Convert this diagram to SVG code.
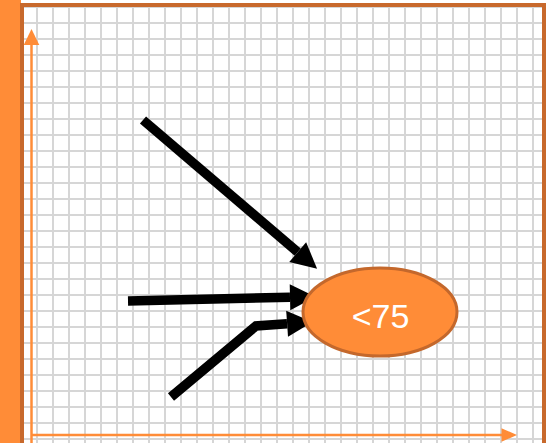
<svg xmlns="http://www.w3.org/2000/svg" width="547" height="443" viewBox="0 0 547 443">
  <style>
    .axis { stroke: #ff8c37; stroke-width: 2.5; fill: none; }
    .axishead { fill: #ff8c37; }
    .conn { stroke: #000000; stroke-width: 9.5; fill: none; stroke-linejoin: miter; stroke-linecap: butt; }
    .node { fill: #ff8c37; stroke: #c4682c; stroke-width: 3; }
    .label { font-family: "Liberation Sans", Arial, sans-serif; font-size: 34px; fill: #ffffff; }
  </style>
  <defs>
    <pattern id="grid" x="20" y="6" width="16" height="16" patternUnits="userSpaceOnUse">
      <path d="M0 1H16M1 0V16" stroke="#d6d6d6" stroke-width="2" fill="none"/>
    </pattern>
    <marker id="head" markerUnits="userSpaceOnUse" markerWidth="27" markerHeight="27" refX="0" refY="13" orient="auto" overflow="visible">
      <path d="M0 0L25.5 13L0 26Z" fill="#000000"/>
    </marker>
  </defs>

  <g id="background">
    <rect x="0" y="0" width="547" height="443" fill="#ffffff"/>
    <rect x="0" y="0" width="21" height="443" fill="#ff8c37"/>
    <rect x="22" y="5" width="522" height="450" fill="url(#grid)"/>
    <rect x="22" y="5" width="522" height="450" fill="none" stroke="#c8692c" stroke-width="4"/>
  </g>

  <g id="axes">
    <line class="axis" x1="31.5" y1="443" x2="31.5" y2="44"/>
    <path class="axishead" d="M31.5 29L39.3 45L23.7 45Z"/>
    <line class="axis" x1="31" y1="435" x2="503" y2="435"/>
    <path class="axishead" d="M517 435L501.5 428.3L501.5 441.7Z"/>
  </g>

  <g id="connectors">
    <path class="conn" d="M143 120L297.7 252.1" marker-end="url(#head)"/>
    <path class="conn" d="M128 301L290 297.3" marker-end="url(#head)"/>
    <path class="conn" d="M171 397L256 326L287.1 323.8" marker-end="url(#head)"/>
  </g>

  <g id="node-lt75">
    <ellipse class="node" cx="380" cy="312" rx="77" ry="44"/>
    <text class="label" x="380.5" y="327.5" text-anchor="middle">&lt;75</text>
  </g>
</svg>
